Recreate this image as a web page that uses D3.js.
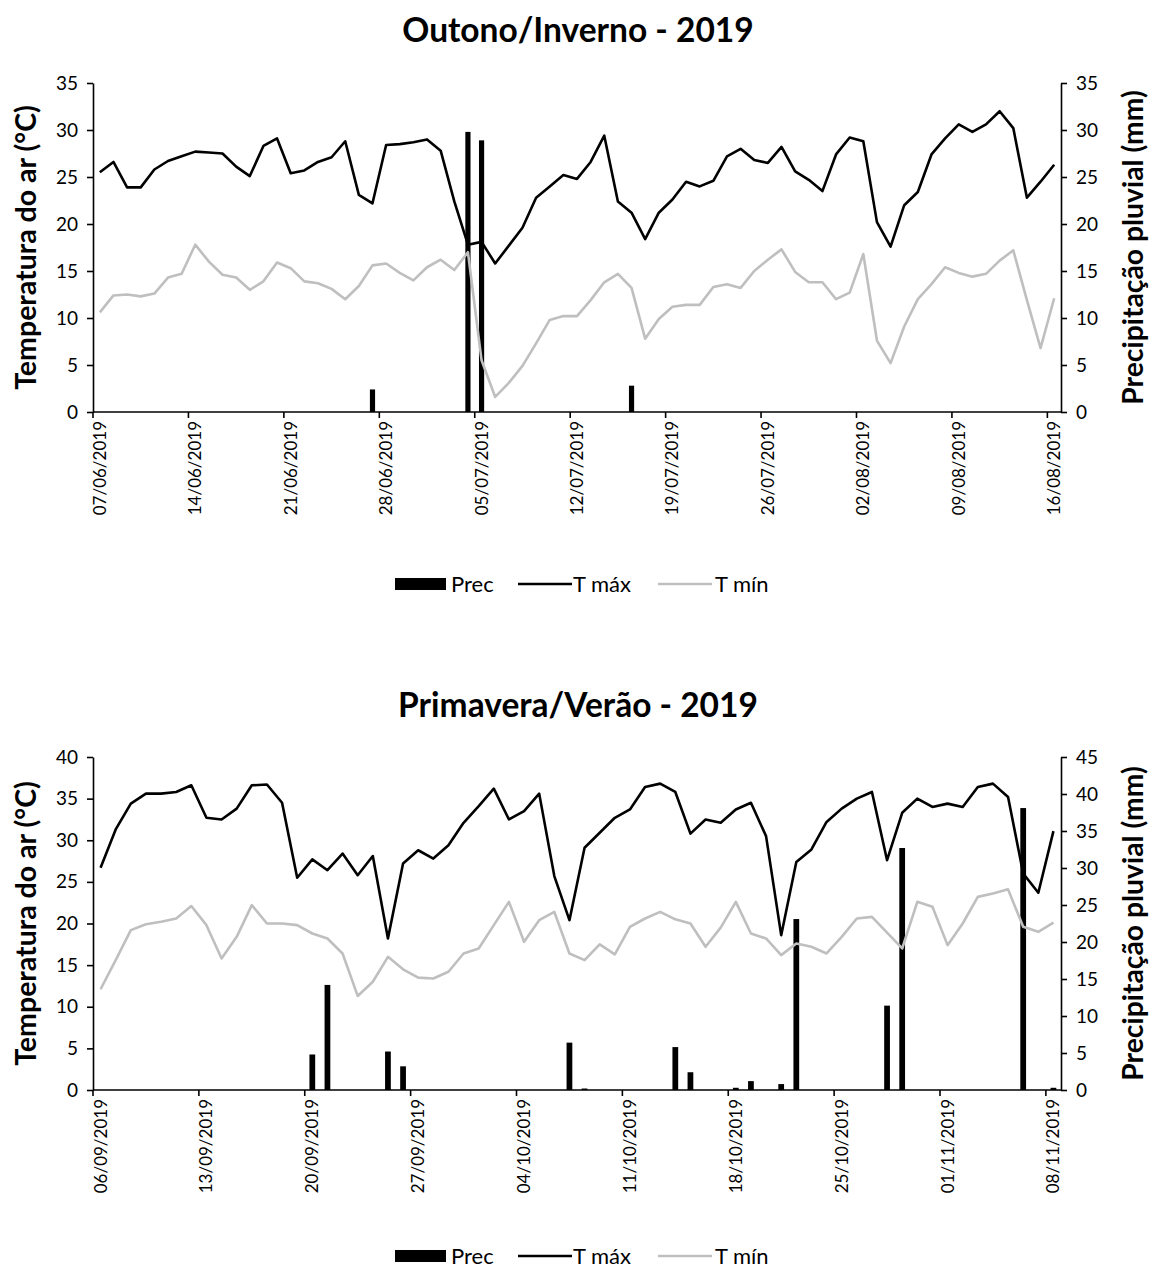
<!DOCTYPE html>
<html>
<head>
<meta charset="utf-8">
<script src="https://cdn.jsdelivr.net/npm/d3@7"></script>
<style>
  body { margin: 0; background: #fff; }
  text { font-family: Lato, "Open Sans", sans-serif; fill: #000; }
</style>
</head>
<body>
<svg id="chart" width="1156" height="1270"></svg>
<script>
// ---- Outono/Inverno 2019 (07/06 to 16/08) ----
const invernoStart = new Date(2019, 5, 7);
const invernoEnd = new Date(2019, 7, 17);
const invernoTMax = [
  25.5, 26.6, 23.9, 23.9, 25.8, 26.7, 27.2, 27.7, 27.6, 27.5, 26.1, 25.1, 28.3, 29.1,
  25.4, 25.7, 26.6, 27.1, 28.8, 23.1, 22.2, 28.4, 28.5, 28.7, 29.0, 27.8, 22.4, 17.8,
  18.1, 15.8, 17.7, 19.6, 22.8, 24.0, 25.2, 24.8, 26.6, 29.4, 22.4, 21.2, 18.4, 21.2,
  22.6, 24.5, 24.0, 24.6, 27.2, 28.0, 26.8, 26.5, 28.2, 25.6, 24.7, 23.5, 27.4, 29.2,
  28.8, 20.2, 17.6, 22.0, 23.4, 27.4, 29.1, 30.6, 29.8, 30.6, 32.0, 30.2, 22.8, 24.5, 26.3
];
const invernoTMin = [
  10.6, 12.4, 12.5, 12.3, 12.6, 14.3, 14.7, 17.8, 16.0, 14.6, 14.3, 13.0, 13.9, 15.9,
  15.3, 13.9, 13.7, 13.1, 12.0, 13.4, 15.6, 15.8, 14.8, 14.0, 15.4, 16.2, 15.1, 17.0,
  5.5, 1.6, 3.1, 4.9, 7.3, 9.8, 10.2, 10.2, 11.9, 13.8, 14.7, 13.2, 7.8, 9.9,
  11.2, 11.4, 11.4, 13.3, 13.6, 13.2, 15.0, 16.2, 17.3, 14.9, 13.8, 13.8, 12.0, 12.7,
  16.8, 7.6, 5.2, 9.1, 12.0, 13.6, 15.4, 14.8, 14.4, 14.7, 16.1, 17.2, 11.9, 6.8, 12.1
];
const invernoPrec = [
  0, 0, 0, 0, 0, 0, 0, 0, 0, 0, 0, 0, 0, 0,
  0, 0, 0, 0, 0, 0, 2.4, 0, 0, 0, 0, 0, 0, 29.8,
  28.9, 0, 0, 0, 0, 0, 0, 0, 0, 0, 0, 2.8, 0, 0,
  0, 0, 0, 0, 0, 0, 0, 0, 0, 0, 0, 0, 0, 0,
  0, 0, 0, 0, 0, 0, 0, 0, 0, 0, 0, 0, 0, 0, 0
];

// ---- Primavera/Verão 2019 (06/09 to 08/11) ----
const veraoStart = new Date(2019, 8, 6);
const veraoEnd = new Date(2019, 10, 9);
const veraoTMax = [
  26.7, 31.3, 34.4, 35.6, 35.6, 35.8, 36.6, 32.7, 32.5, 33.8, 36.6, 36.7, 34.5, 25.5,
  27.7, 26.4, 28.4, 25.8, 28.1, 18.2, 27.2, 28.8, 27.8, 29.4, 32.1, 34.1, 36.2, 32.5,
  33.5, 35.6, 25.7, 20.4, 29.1, 30.9, 32.7, 33.7, 36.4, 36.8, 35.8, 30.8, 32.5, 32.1,
  33.7, 34.5, 30.5, 18.6, 27.4, 28.9, 32.2, 33.8, 35.0, 35.8, 27.6, 33.3, 35.0, 34.0,
  34.4, 34.0, 36.4, 36.8, 35.2, 26.0, 23.7, 31.1
];
const veraoTMin = [
  12.1, 15.6, 19.2, 19.9, 20.2, 20.6, 22.1, 19.8, 15.8, 18.4, 22.2, 20.0, 20.0, 19.8,
  18.8, 18.2, 16.4, 11.3, 13.0, 16.0, 14.5, 13.5, 13.4, 14.2, 16.4, 17.0, 19.8, 22.6,
  17.8, 20.4, 21.4, 16.4, 15.6, 17.5, 16.3, 19.6, 20.6, 21.4, 20.5, 20.0, 17.2, 19.5,
  22.6, 18.8, 18.2, 16.2, 17.6, 17.2, 16.4, 18.4, 20.6, 20.8, 18.9, 17.0, 22.6, 22.0,
  17.4, 20.0, 23.2, 23.6, 24.1, 19.6, 19.0, 20.1
];
const veraoPrec = [
  0, 0, 0, 0, 0, 0, 0, 0, 0, 0, 0, 0, 0, 0,
  4.8, 14.2, 0, 0, 0, 5.2, 3.2, 0, 0, 0, 0, 0, 0, 0,
  0, 0, 0, 6.4, 0.2, 0, 0, 0, 0, 0, 5.8, 2.4, 0, 0,
  0.3, 1.2, 0, 0.8, 23.1, 0, 0, 0, 0, 0, 11.4, 32.7, 0, 0,
  0, 0, 0, 0, 0, 38.1, 0, 0.3
];

const legendItems = ['Prec', 'T máx', 'T mín'];
const fmtDate = d3.timeFormat('%d/%m/%Y');

const svg = d3.select('#chart');

function drawPanel(cfg) {
  const dates = d3.timeDay.range(cfg.start, cfg.end);
  const rows = dates.map((d, i) => ({
    date: d, tmax: cfg.tmax[i], tmin: cfg.tmin[i], prec: cfg.prec[i]
  }));

  const x = d3.scaleBand()
    .domain(d3.range(dates.length))
    .range([cfg.left, cfg.right])
    .paddingInner(0);
  const yT = d3.scaleLinear().domain([0, cfg.tMaxDomain]).range([cfg.bottom, cfg.top]);
  const yP = d3.scaleLinear().domain([0, cfg.pMaxDomain]).range([cfg.bottom, cfg.top]);
  const bw = x.bandwidth();
  const cx = (i) => x(i) + bw / 2;

  const g = svg.append('g');

  // title
  g.append('text')
    .attr('x', 578).attr('y', cfg.titleY)
    .attr('text-anchor', 'middle')
    .style('font-size', '33.5px').style('font-weight', 'bold')
    .text(cfg.title);

  // precipitation bars
  const barW = bw * 0.38;
  g.selectAll('rect.prec')
    .data(rows.filter(d => d.prec > 0))
    .join('rect')
    .attr('class', 'prec')
    .attr('x', (d) => cx(rows.indexOf(d)) - barW / 2)
    .attr('width', barW)
    .attr('y', d => yP(d.prec))
    .attr('height', d => cfg.bottom - yP(d.prec))
    .attr('fill', '#000');

  // lines
  const line = (key) => d3.line()
    .x((d, i) => cx(i))
    .y(d => yT(d[key]));

  g.append('path').datum(rows)
    .attr('d', line('tmin'))
    .attr('fill', 'none').attr('stroke', '#bfbfbf')
    .attr('stroke-width', 2.6).attr('stroke-linejoin', 'round');

  g.append('path').datum(rows)
    .attr('d', line('tmax'))
    .attr('fill', 'none').attr('stroke', '#000')
    .attr('stroke-width', 2.6).attr('stroke-linejoin', 'round');

  // left axis
  const leftAxis = d3.axisLeft(yT).tickValues(d3.range(0, cfg.tMaxDomain + 1, 5))
    .tickSize(6).tickSizeOuter(0).tickPadding(9);
  const gl = g.append('g').attr('transform', `translate(${cfg.left},0)`).call(leftAxis);

  // right axis
  const rightAxis = d3.axisRight(yP).tickValues(d3.range(0, cfg.pMaxDomain + 1, 5))
    .tickSize(6).tickSizeOuter(0).tickPadding(9);
  const gr = g.append('g').attr('transform', `translate(${cfg.right},0)`).call(rightAxis);

  // bottom axis: ticks at category boundaries every 7 days, labels at centres
  const tickIdx = d3.range(0, dates.length, 7);
  const gb = g.append('g');
  gb.append('line')
    .attr('x1', cfg.left).attr('x2', cfg.right)
    .attr('y1', cfg.bottom).attr('y2', cfg.bottom)
    .attr('stroke', '#000').attr('stroke-width', 1.6);
  gb.selectAll('line.tick')
    .data(tickIdx)
    .join('line')
    .attr('class', 'tick')
    .attr('x1', i => x(i)).attr('x2', i => x(i))
    .attr('y1', cfg.bottom).attr('y2', cfg.bottom + 6)
    .attr('stroke', '#000').attr('stroke-width', 1.6);
  gb.selectAll('text')
    .data(tickIdx)
    .join('text')
    .attr('transform', i => `translate(${cx(i)},${cfg.bottom + 9}) rotate(-90)`)
    .attr('text-anchor', 'end')
    .attr('dy', '0.35em')
    .style('font-size', '17px')
    .text(i => fmtDate(dates[i]));

  [gl, gr].forEach(a => {
    a.select('.domain').attr('stroke', '#000').attr('stroke-width', 1.6);
    a.selectAll('.tick line').attr('stroke', '#000').attr('stroke-width', 1.6);
    a.selectAll('.tick text').style('font-size', '19px').style('font-family', 'Lato, sans-serif');
  });

  // axis titles
  const midY = (cfg.top + cfg.bottom) / 2;
  g.append('text')
    .attr('transform', `translate(26,${midY}) rotate(-90)`)
    .attr('text-anchor', 'middle').attr('dy', '0.35em')
    .style('font-size', '28.5px').style('font-weight', 'bold')
    .text('Temperatura do ar (°C)');
  g.append('text')
    .attr('transform', `translate(1133,${midY}) rotate(-90)`)
    .attr('text-anchor', 'middle').attr('dy', '0.35em')
    .style('font-size', '28.3px').style('font-weight', 'bold')
    .text('Precipitação pluvial (mm)');

  // legend
  const ly = cfg.legendY;
  const lg = g.append('g');
  lg.append('rect').attr('x', 395).attr('y', ly - 6).attr('width', 51).attr('height', 12).attr('fill', '#000');
  lg.append('line').attr('x1', 518).attr('x2', 572).attr('y1', ly).attr('y2', ly)
    .attr('stroke', '#000').attr('stroke-width', 2.6);
  lg.append('line').attr('x1', 658).attr('x2', 712).attr('y1', ly).attr('y2', ly)
    .attr('stroke', '#bfbfbf').attr('stroke-width', 2.6);
  const lx = [451, 573, 715];
  lg.selectAll('text')
    .data(legendItems)
    .join('text')
    .attr('x', (d, i) => lx[i]).attr('y', ly)
    .attr('dy', '0.35em')
    .style('font-size', '22px')
    .text(d => d);
}

drawPanel({
  title: 'Outono/Inverno - 2019', titleY: 42,
  start: invernoStart, end: invernoEnd,
  tmax: invernoTMax, tmin: invernoTMin, prec: invernoPrec,
  left: 93, right: 1061, top: 83, bottom: 412,
  tMaxDomain: 35, pMaxDomain: 35, legendY: 584
});

drawPanel({
  title: 'Primavera/Verão - 2019', titleY: 717,
  start: veraoStart, end: veraoEnd,
  tmax: veraoTMax, tmin: veraoTMin, prec: veraoPrec,
  left: 93, right: 1061, top: 757, bottom: 1090,
  tMaxDomain: 40, pMaxDomain: 45, legendY: 1256
});
</script>
</body>
</html>
